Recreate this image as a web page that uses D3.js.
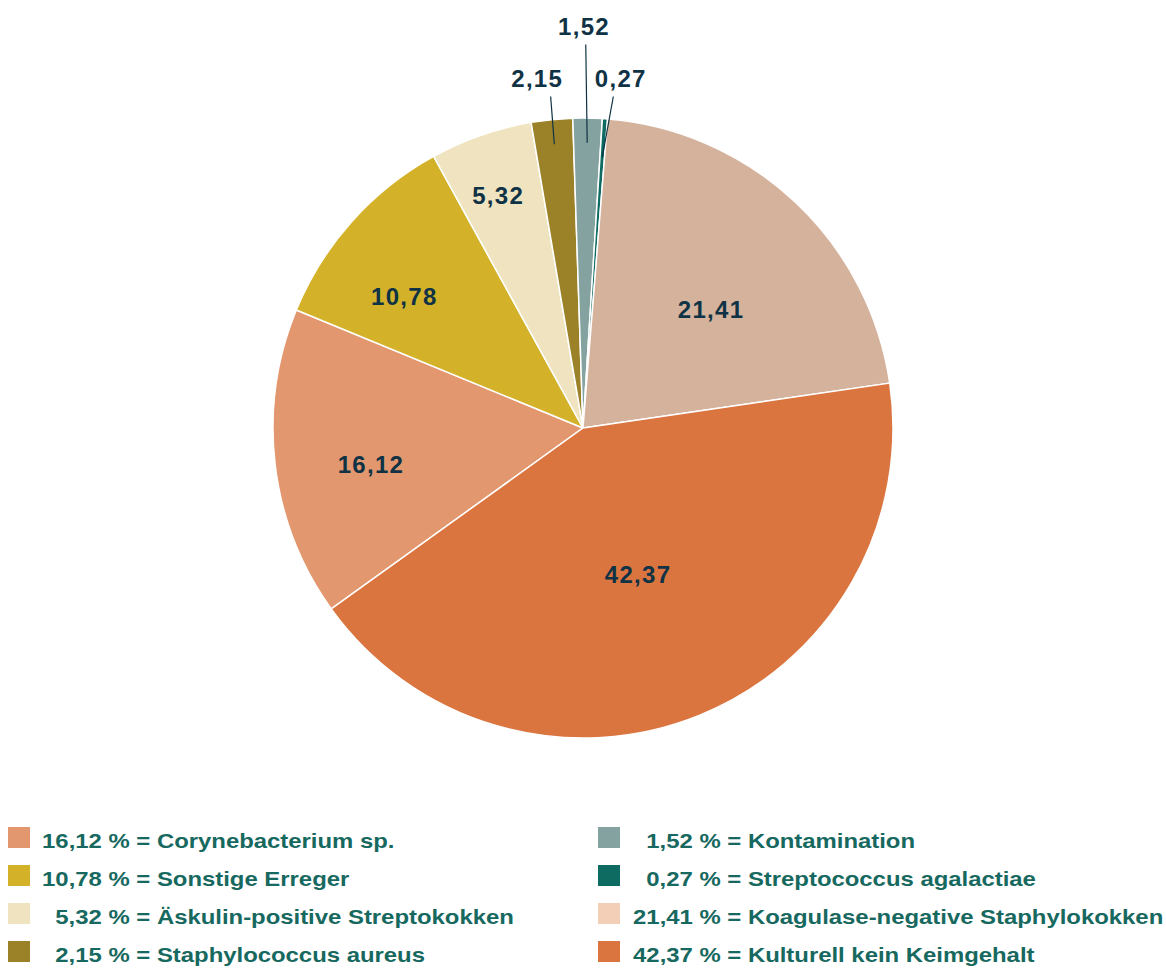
<!DOCTYPE html>
<meta charset="utf-8">
<style>
  body { margin: 0; background: #fff; }
  .label { font-family: "Liberation Sans", Arial, sans-serif; font-weight: bold; font-size: 24px; fill: #0f3245; letter-spacing: 1.3px; }
  .legend text { font-family: "Liberation Sans", Arial, sans-serif; font-weight: bold; font-size: 20px; fill: #17695f; }
  .slices path { stroke: #fff; stroke-width: 1.5; }
  .leader { stroke: #0f3245; stroke-width: 1.2; fill: none; }
</style>
<body>
<script src="https://cdnjs.cloudflare.com/ajax/libs/d3/7.8.5/d3.min.js"></script>
<script>

// data
var names = ['Corynebacterium sp.', 'Sonstige Erreger', 'Äskulin-positive Streptokokken', 'Staphylococcus aureus',
             'Kontamination', 'Streptococcus agalactiae', 'Koagulase-negative Staphylokokken', 'Kulturell kein Keimgehalt'];
var values = [16.12, 10.78, 5.32, 2.15, 1.52, 0.27, 21.41, 42.37];
var sliceColors = ['#e3976e', '#d3b22a', '#f0e4c0', '#9b8228', '#84a3a0', '#0e6b62', '#d4b29c', '#db7540'];
var legendColors = ['#e3976e', '#d3b22a', '#f0e4c0', '#9b8228', '#84a3a0', '#0e6b62', '#f4cfb8', '#db7540'];

// label placement (fraction of radius + angle nudge), small ones go outside with a line
var labelRadius = [0.694, 0.716, 0.80, 1.137, 1.295, 1.134, 0.563, 0.505];
var labelShift = [-3.1, -5.4, -0.8, -1.7, -0.7, 2.1, 4.1, 1.4];   // degrees
var outside = [false, false, false, true, true, true, false, false];
var leaderEnd = [0, 0, 0, 0.92, 0.92, 0.875, 0, 0];

var width = 1166, height = 968;
var cx = 583, cy = 428, radius = 310;
var fmt = function (v) { return d3.format('.2f')(v).replace('.', ','); };

var svg = d3.select('body').append('svg').attr('width', width).attr('height', height);
var g = svg.append('g').attr('transform', 'translate(' + cx + ',' + cy + ')');

var startDeg = 234.3;
var pie = d3.pie().sort(null).value(function (d) { return d; })
  .startAngle(startDeg * Math.PI / 180).endAngle((startDeg + 360) * Math.PI / 180);
var arcs = pie(values);
var arc = d3.arc().innerRadius(0).outerRadius(radius);

g.append('g').attr('class', 'slices').selectAll('path').data(arcs).enter().append('path')
  .attr('d', arc)
  .attr('fill', function (d, i) { return sliceColors[i]; });

function polar(r, a) { return [r * Math.sin(a), -r * Math.cos(a)]; }

arcs.forEach(function (d, i) {
  var mid = (d.startAngle + d.endAngle) / 2 + labelShift[i] * Math.PI / 180;
  var p = polar(radius * labelRadius[i], mid);
  if (outside[i]) {
    var m = (d.startAngle + d.endAngle) / 2;
    var inner = polar(radius * leaderEnd[i], m);
    g.append('line').attr('class', 'leader')
      .attr('x1', p[0] * 0.75 + 2).attr('y1', p[1] + 18).attr('x2', inner[0]).attr('y2', inner[1]);
  }
  g.append('text').attr('class', 'label')
    .attr('x', p[0]).attr('y', p[1]).attr('dy', '0.36em')
    .attr('text-anchor', 'middle')
    .text(fmt(values[i]));
});

// legend (the original font runs wide, so stretch it a bit)
var legend = svg.append('g').attr('class', 'legend');
var rowY = d3.scalePoint().domain(d3.range(4)).range([827, 941]);
var colX = [8, 598];
var textStart = [42, 633];
var stretch = 1.195;

// width of a 5-character number so shorter ones line up on the right
var probe = legend.append('text').text('00,00');
var numW = probe.node().getComputedTextLength();
probe.remove();

names.forEach(function (n, i) {
  var col = Math.floor(i / 4), row = i % 4;
  var y = rowY(row);
  legend.append('rect').attr('x', colX[col]).attr('y', y).attr('width', 22).attr('height', 21)
    .attr('fill', legendColors[i]);
  var t = legend.append('g')
    .attr('transform', 'translate(' + textStart[col] + ',' + (y + 21) + ') scale(' + stretch + ',1)');
  t.append('text').attr('x', numW).attr('text-anchor', 'end').text(fmt(values[i]));
  t.append('text').attr('x', numW).attr('xml:space', 'preserve').text(' % = ' + n);
});

</script>
</body>
</html>
